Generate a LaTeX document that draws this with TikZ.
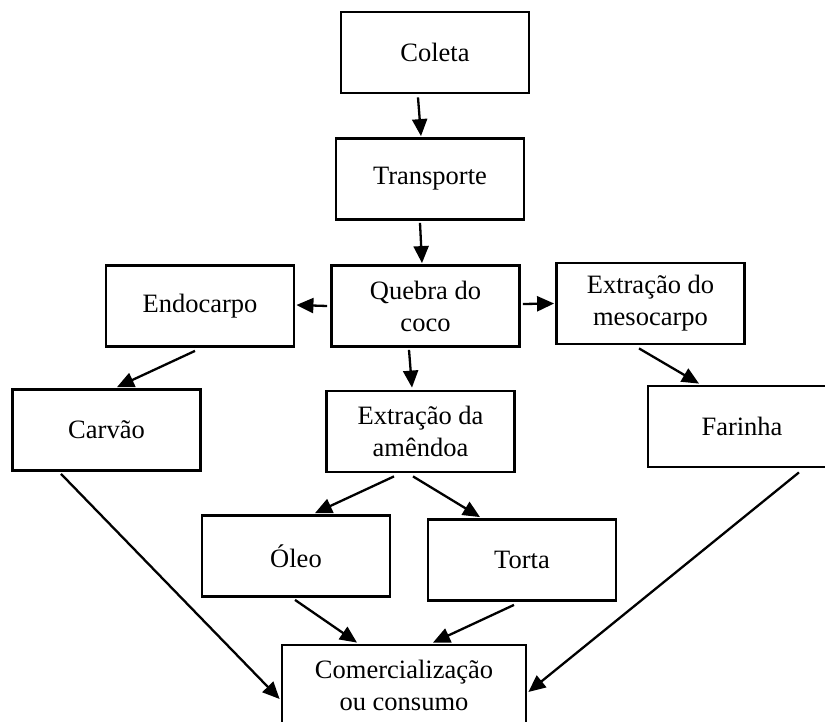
\documentclass[tikz,border=0pt]{standalone}
\usepackage{fontspec}
\setmainfont{Liberation Serif}
\usetikzlibrary{arrows.meta}

\tikzset{
    box/.style={draw, line width=2.8pt, rectangle, minimum width=188pt, minimum height=81pt,
        inner sep=0pt, align=center, font=\fontsize{26.5}{32}\selectfont},
    arr/.style={line width=2.3pt, -{Triangle[length=17pt,width=15pt]}}
}

\begin{document}
\begin{tikzpicture}[x=1pt, y=-1pt]
            \useasboundingbox (0, 0) rectangle (825, 722);
            % etapas
            \node[box] (coleta) at (435, 52.5) {Coleta};
            \node[box] (transp) at (430, 179) {Transporte};
            \node[box] (quebra) at (425.5, 306) {Quebra do\\coco};
            \node[box] (endo) at (200, 306) {Endocarpo};
            \node[box] (meso) at (650.5, 303.5) {Extração do\\mesocarpo};
            \node[box] (carvao) at (106.5, 430) {Carvão};
            \node[box] (amendoa) at (420.5, 431.5) {Extração da\\amêndoa};
            \node[box] (farinha) at (742, 426.5) {Farinha};
            \node[box] (oleo) at (296, 556) {Óleo};
            \node[box] (torta) at (522, 560) {Torta};
            \node[box, minimum width=244pt] (comerc) at (404, 685.5) {Comercialização\\ou consumo};

            % setas
            \draw[arr] ([xshift=-17pt, yshift=-3pt]coleta.south) -- ([xshift=-9pt, yshift=1pt]transp.north);
            \draw[arr] ([xshift=-10pt, yshift=-2pt]transp.south) -- ([xshift=-3.5pt, yshift=1pt]quebra.north);
            \draw[arr] ([xshift=-3pt]quebra.west) -- ([xshift=1pt, yshift=1pt]endo.east);
            \draw[arr] ([xshift=2pt, yshift=2pt]quebra.east) -- ([xshift=-1pt]meso.west);
            \draw[arr] ([xshift=-5pt, yshift=-3pt]endo.south) -- ([xshift=10.5pt, yshift=1pt]carvao.north);
            \draw[arr] ([xshift=-16.5pt, yshift=-2pt]quebra.south) -- ([xshift=-8.5pt, yshift=2pt]amendoa.north);
            \draw[arr] ([xshift=-11.5pt, yshift=-3pt]meso.south) -- ([xshift=-43pt, yshift=1pt]farinha.north);
            \draw[arr] ([xshift=-26.5pt, yshift=-3pt]amendoa.south) -- ([xshift=19pt, yshift=1pt]oleo.north);
            \draw[arr] ([xshift=-7.5pt, yshift=-3pt]amendoa.south) -- ([xshift=-42pt, yshift=1pt]torta.north);
            \draw[arr] ([xshift=-1pt, yshift=-2pt]oleo.south) -- ([xshift=-47pt, yshift=1pt]comerc.north);
            \draw[arr] ([xshift=-8pt, yshift=-3pt]torta.south) -- ([xshift=29pt, yshift=1pt]comerc.north);
            \draw[arr] ([xshift=-45.5pt, yshift=-2pt]carvao.south) -- ([xshift=-1pt, yshift=-13.5pt]comerc.west);
            \draw[arr] ([xshift=57pt, yshift=-4pt]farinha.south) -- ([xshift=1pt, yshift=-6.5pt]comerc.east);

        \end{tikzpicture}
\end{document}
